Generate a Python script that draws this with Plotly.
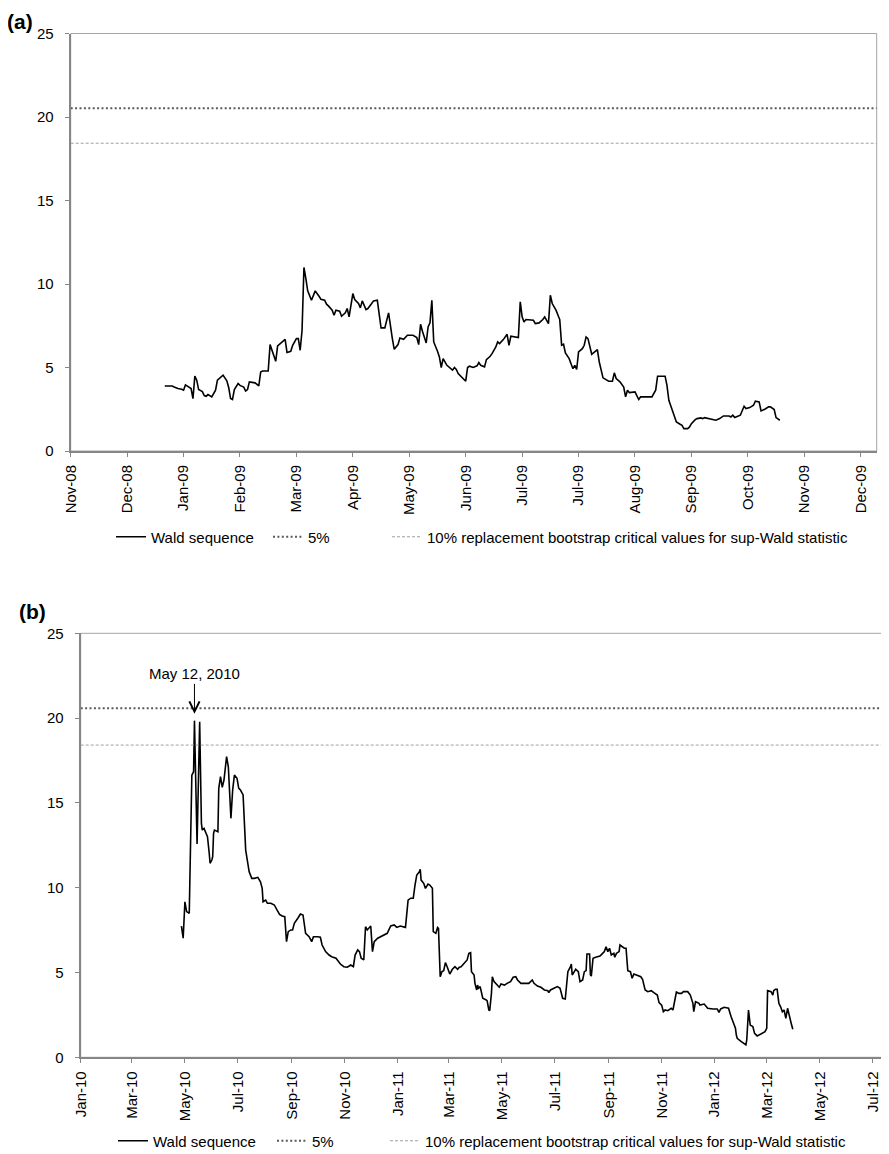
import plotly.graph_objects as go

# The page body has an 8px default margin, so the figure is 8px smaller than the window
# on each axis and every layout position below is given in figure pixels.
FIG_W, FIG_H = 881, 1146
FONT = "Liberation Sans, Arial, sans-serif"

# ---------------- Panel (a) data ----------------
dates_a = [
    "2008-12-23", "2008-12-27", "2008-12-28", "2008-12-30", "2009-01-01", "2009-01-02", "2009-01-03",
    "2009-01-05", "2009-01-06", "2009-01-07", "2009-01-08", "2009-01-09", "2009-01-10", "2009-01-12",
    "2009-01-13", "2009-01-14", "2009-01-15", "2009-01-17", "2009-01-19", "2009-01-20", "2009-01-23",
    "2009-01-25", "2009-01-26", "2009-01-27", "2009-01-28", "2009-01-29", "2009-01-31", "2009-02-01",
    "2009-02-03", "2009-02-04", "2009-02-05", "2009-02-06", "2009-02-09", "2009-02-11", "2009-02-12",
    "2009-02-13", "2009-02-16", "2009-02-17", "2009-02-19", "2009-02-20", "2009-02-21", "2009-02-22",
    "2009-02-23", "2009-02-25", "2009-02-26", "2009-02-28", "2009-03-01", "2009-03-03", "2009-03-04",
    "2009-03-05", "2009-03-06", "2009-03-07", "2009-03-08", "2009-03-09", "2009-03-11", "2009-03-12",
    "2009-03-13", "2009-03-15", "2009-03-16", "2009-03-18", "2009-03-19", "2009-03-20", "2009-03-22",
    "2009-03-23", "2009-03-24", "2009-03-26", "2009-03-27", "2009-03-29", "2009-03-30", "2009-03-31",
    "2009-04-02", "2009-04-03", "2009-04-05", "2009-04-06", "2009-04-07", "2009-04-09", "2009-04-10",
    "2009-04-12", "2009-04-13", "2009-04-15", "2009-04-17", "2009-04-19", "2009-04-21", "2009-04-23",
    "2009-04-24", "2009-04-26", "2009-04-27", "2009-04-29", "2009-05-01", "2009-05-04", "2009-05-06",
    "2009-05-07", "2009-05-08", "2009-05-09", "2009-05-11", "2009-05-12", "2009-05-13", "2009-05-14",
    "2009-05-15", "2009-05-17", "2009-05-18", "2009-05-19", "2009-05-20", "2009-05-22", "2009-05-25",
    "2009-05-26", "2009-05-27", "2009-05-28", "2009-05-30", "2009-06-01", "2009-06-02", "2009-06-03",
    "2009-06-05", "2009-06-07", "2009-06-08", "2009-06-09", "2009-06-11", "2009-06-12", "2009-06-14",
    "2009-06-15", "2009-06-17", "2009-06-18", "2009-06-19", "2009-06-21", "2009-06-23", "2009-06-24",
    "2009-06-25", "2009-06-27", "2009-06-29", "2009-06-30", "2009-07-01", "2009-07-02", "2009-07-03",
    "2009-07-07", "2009-07-08", "2009-07-10", "2009-07-12", "2009-07-13", "2009-07-15", "2009-07-16",
    "2009-07-17", "2009-07-19", "2009-07-21", "2009-07-22", "2009-07-23", "2009-07-24", "2009-07-26",
    "2009-07-27", "2009-07-28", "2009-07-29", "2009-07-30", "2009-07-31", "2009-08-02", "2009-08-03",
    "2009-08-04", "2009-08-05", "2009-08-07", "2009-08-10", "2009-08-11", "2009-08-13", "2009-08-15",
    "2009-08-16", "2009-08-18", "2009-08-19", "2009-08-20", "2009-08-22", "2009-08-24", "2009-08-25",
    "2009-08-26", "2009-08-27", "2009-08-30", "2009-09-01", "2009-09-02", "2009-09-08", "2009-09-10",
    "2009-09-11", "2009-09-15", "2009-09-16", "2009-09-17", "2009-09-19", "2009-09-21", "2009-09-23",
    "2009-09-24", "2009-09-25", "2009-09-27", "2009-09-28", "2009-09-29", "2009-10-01", "2009-10-02",
    "2009-10-04", "2009-10-05", "2009-10-06", "2009-10-09", "2009-10-12", "2009-10-14", "2009-10-16",
    "2009-10-19", "2009-10-20", "2009-10-21", "2009-10-22", "2009-10-25", "2009-10-27", "2009-10-28",
    "2009-10-30", "2009-11-01", "2009-11-02", "2009-11-04", "2009-11-05", "2009-11-07", "2009-11-09",
    "2009-11-10", "2009-11-12", "2009-11-13", "2009-11-15",
]
wald_a = [
    3.89, 3.89, 3.83, 3.74, 3.70, 3.64, 3.96,
    3.83, 3.74, 3.14, 4.48, 4.24, 3.68, 3.56,
    3.32, 3.28, 3.38, 3.24, 3.64, 4.24, 4.54,
    4.20, 3.80, 3.14, 3.08, 3.68, 4.04, 3.93,
    3.83, 3.59, 3.68, 4.14, 4.08, 3.90, 4.73,
    4.79, 4.79, 6.37, 5.63, 5.37, 6.29, 6.39,
    6.43, 6.69, 5.90, 5.97, 6.33, 6.73, 6.73,
    6.03, 7.23, 10.99, 10.33, 9.59, 9.03, 9.29,
    9.59, 9.27, 9.09, 9.03, 8.79, 8.69, 8.43,
    8.13, 8.43, 8.37, 8.07, 8.27, 8.53, 8.03,
    9.43, 9.07, 8.83, 8.57, 8.99, 8.47, 8.53,
    8.83, 8.99, 9.03, 7.37, 7.37, 8.27, 6.73,
    6.09, 6.37, 6.77, 6.69, 6.93, 6.93, 6.79,
    6.37, 7.59, 7.17, 6.47, 7.43, 7.67, 9.03,
    6.53, 5.97, 5.63, 5.00, 5.53, 5.13, 4.84,
    5.00, 4.88, 4.64, 4.38, 4.18, 5.00, 5.08,
    5.00, 5.10, 5.30, 5.13, 5.04, 5.47, 5.67,
    5.83, 6.23, 6.53, 6.43, 6.67, 6.99, 6.33,
    6.87, 6.83, 6.79, 8.93, 8.03, 7.73, 7.87,
    7.83, 7.63, 7.67, 7.87, 8.03, 7.63, 9.33,
    8.83, 8.43, 7.87, 6.33, 6.39, 5.87, 5.53,
    5.23, 4.93, 5.13, 4.88, 5.93, 6.13, 6.33,
    6.83, 6.73, 5.79, 6.07, 5.33, 4.38, 4.24,
    4.18, 4.18, 4.68, 4.34, 4.14, 3.83, 3.24,
    3.64, 3.50, 3.54, 3.08, 3.24, 3.24, 3.64,
    4.48, 4.48, 3.93, 3.04, 2.44, 1.74, 1.60,
    1.54, 1.34, 1.34, 1.44, 1.64, 1.88, 1.94,
    1.98, 1.94, 2.00, 1.94, 1.84, 1.94, 2.10,
    2.10, 2.04, 2.14, 2.00, 2.14, 2.68, 2.54,
    2.60, 2.74, 2.98, 2.94, 2.40, 2.50, 2.64,
    2.64, 2.48, 2.00, 1.84,
]
crit5_a = 20.52
crit10_a = 18.43
tickvals_a = ["2008-11-03", "2008-12-03", "2009-01-02", "2009-02-01", "2009-03-03",
              "2009-04-02", "2009-05-02", "2009-06-01", "2009-07-01", "2009-07-31",
              "2009-08-30", "2009-09-29", "2009-10-29", "2009-11-28", "2009-12-28"]
ticktext_a = ["Nov-08", "Dec-08", "Jan-09", "Feb-09", "Mar-09", "Apr-09", "May-09", "Jun-09",
              "Jul-09", "Jul-09", "Aug-09", "Sep-09", "Oct-09", "Nov-09", "Dec-09"]
xrange_a = ["2008-11-03", "2010-01-05 12:00"]

# ---------------- Panel (b) data ----------------
dates_b = [
    "2010-04-27", "2010-04-29", "2010-05-01", "2010-05-03", "2010-05-06", "2010-05-09", "2010-05-11",
    "2010-05-12", "2010-05-15", "2010-05-18", "2010-05-20", "2010-05-21", "2010-05-23", "2010-05-25",
    "2010-05-27", "2010-05-29", "2010-05-30", "2010-06-01", "2010-06-02", "2010-06-03", "2010-06-04",
    "2010-06-08", "2010-06-09", "2010-06-11", "2010-06-13", "2010-06-15", "2010-06-18", "2010-06-20",
    "2010-06-23", "2010-06-25", "2010-06-27", "2010-06-30", "2010-07-02", "2010-07-04", "2010-07-07",
    "2010-07-10", "2010-07-14", "2010-07-17", "2010-07-20", "2010-07-24", "2010-07-27", "2010-07-29",
    "2010-07-30", "2010-08-02", "2010-08-04", "2010-08-08", "2010-08-12", "2010-08-15", "2010-08-18",
    "2010-08-21", "2010-08-24", "2010-08-26", "2010-08-28", "2010-08-31", "2010-09-02", "2010-09-04",
    "2010-09-07", "2010-09-08", "2010-09-11", "2010-09-14", "2010-09-17", "2010-09-21", "2010-09-24",
    "2010-09-26", "2010-10-01", "2010-10-04", "2010-10-06", "2010-10-10", "2010-10-14", "2010-10-17",
    "2010-10-22", "2010-10-27", "2010-10-31", "2010-11-04", "2010-11-08", "2010-11-11", "2010-11-13",
    "2010-11-16", "2010-11-18", "2010-11-20", "2010-11-23", "2010-11-25", "2010-11-27", "2010-12-01",
    "2010-12-03", "2010-12-05", "2010-12-09", "2010-12-13", "2010-12-16", "2010-12-20", "2010-12-24",
    "2010-12-28", "2010-12-31", "2011-01-04", "2011-01-10", "2011-01-13", "2011-01-16", "2011-01-19",
    "2011-01-21", "2011-01-23", "2011-01-26", "2011-01-27", "2011-01-28", "2011-01-31", "2011-02-02",
    "2011-02-05", "2011-02-07", "2011-02-10", "2011-02-11", "2011-02-14", "2011-02-16", "2011-02-17",
    "2011-02-19", "2011-02-21", "2011-02-23", "2011-02-25", "2011-02-27", "2011-03-02", "2011-03-05",
    "2011-03-08", "2011-03-11", "2011-03-13", "2011-03-15", "2011-03-18", "2011-03-20", "2011-03-22",
    "2011-03-24", "2011-03-26", "2011-03-27", "2011-03-30", "2011-03-31", "2011-04-02", "2011-04-03",
    "2011-04-04", "2011-04-06", "2011-04-08", "2011-04-09", "2011-04-13", "2011-04-14", "2011-04-16",
    "2011-04-17", "2011-04-19", "2011-04-20", "2011-04-22", "2011-04-25", "2011-04-28", "2011-04-30",
    "2011-05-04", "2011-05-07", "2011-05-11", "2011-05-14", "2011-05-17", "2011-05-19", "2011-05-23",
    "2011-05-27", "2011-06-01", "2011-06-05", "2011-06-07", "2011-06-11", "2011-06-15", "2011-06-19",
    "2011-06-23", "2011-06-24", "2011-06-26", "2011-06-30", "2011-07-04", "2011-07-07", "2011-07-10",
    "2011-07-13", "2011-07-14", "2011-07-16", "2011-07-19", "2011-07-20", "2011-07-21", "2011-07-23",
    "2011-07-25", "2011-07-28", "2011-07-30", "2011-08-02", "2011-08-04", "2011-08-06", "2011-08-07",
    "2011-08-10", "2011-08-11", "2011-08-12", "2011-08-14", "2011-08-17", "2011-08-22", "2011-08-25",
    "2011-08-27", "2011-08-29", "2011-08-31", "2011-09-02", "2011-09-04", "2011-09-07", "2011-09-08",
    "2011-09-10", "2011-09-13", "2011-09-14", "2011-09-17", "2011-09-19", "2011-09-21", "2011-09-23",
    "2011-09-26", "2011-09-28", "2011-09-30", "2011-10-04", "2011-10-08", "2011-10-10", "2011-10-13",
    "2011-10-16", "2011-10-20", "2011-10-23", "2011-10-27", "2011-10-29", "2011-11-01", "2011-11-03",
    "2011-11-05", "2011-11-08", "2011-11-12", "2011-11-14", "2011-11-16", "2011-11-18", "2011-11-21",
    "2011-11-24", "2011-11-26", "2011-12-01", "2011-12-04", "2011-12-07", "2011-12-08", "2011-12-10",
    "2011-12-14", "2011-12-15", "2011-12-20", "2011-12-24", "2011-12-30", "2012-01-04", "2012-01-06",
    "2012-01-08", "2012-01-12", "2012-01-17", "2012-01-20", "2012-01-23", "2012-01-25", "2012-01-26",
    "2012-01-27", "2012-01-31", "2012-02-04", "2012-02-06", "2012-02-07", "2012-02-08", "2012-02-09",
    "2012-02-11", "2012-02-14", "2012-02-16", "2012-02-19", "2012-02-21", "2012-02-25", "2012-02-28",
    "2012-03-01", "2012-03-02", "2012-03-06", "2012-03-08", "2012-03-09", "2012-03-11", "2012-03-13",
    "2012-03-15", "2012-03-17", "2012-03-19", "2012-03-21", "2012-03-23", "2012-03-25", "2012-03-27",
    "2012-03-29", "2012-03-31",
]
wald_b = [
    7.74, 7.02, 9.17, 8.59, 8.49, 16.64, 16.84,
    19.85, 12.58, 19.79, 13.80, 13.40, 13.50, 13.21,
    13.01, 12.03, 11.44, 11.63, 11.83, 13.21, 13.40,
    13.30, 15.86, 16.55, 15.92, 16.35, 17.73, 17.13,
    14.09, 15.76, 16.64, 16.45, 15.86, 15.76, 15.47,
    12.22, 10.94, 10.55, 10.55, 10.61, 10.35, 9.96,
    9.17, 9.27, 9.08, 9.08, 8.98, 8.69, 8.43,
    8.33, 8.29, 6.82, 7.41, 7.51, 7.51, 7.90,
    8.10, 8.20, 8.45, 8.39, 7.31, 7.11, 6.82,
    7.11, 7.11, 7.08, 6.62, 6.23, 6.03, 5.93,
    5.84, 5.50, 5.34, 5.31, 5.44, 5.34, 6.03,
    6.33, 6.23, 5.84, 5.74, 7.70, 7.51, 7.74,
    6.23, 6.82, 7.02, 7.11, 7.21, 7.31, 7.74,
    7.80, 7.66, 7.74, 7.66, 9.27, 9.38, 9.38,
    10.16, 10.75, 10.94, 11.08, 10.45, 10.26, 9.96,
    10.22, 10.16, 9.96, 7.41, 7.31, 7.66, 7.61,
    4.75, 5.05, 5.11, 5.58, 5.34, 4.91, 5.19,
    5.34, 5.19, 5.31, 5.34, 5.50, 5.58, 5.74,
    6.13, 6.17, 5.05, 4.85, 4.36, 3.97, 4.26,
    4.07, 4.17, 3.77, 3.48, 3.38, 3.34, 2.79,
    2.75, 3.77, 4.75, 4.46, 4.26, 4.13, 4.32,
    4.26, 4.36, 4.46, 4.72, 4.75, 4.56, 4.36,
    4.36, 4.36, 4.56, 4.36, 4.20, 4.13, 3.97,
    3.93, 3.81, 3.97, 4.07, 4.17, 4.07, 3.48,
    3.44, 3.87, 5.05, 5.34, 5.50, 4.85, 5.05,
    5.19, 5.05, 4.46, 4.56, 5.05, 5.11, 6.09,
    6.09, 4.85, 4.79, 5.84, 5.90, 5.97, 6.13,
    6.23, 6.52, 6.23, 6.43, 6.03, 6.13, 5.90,
    6.13, 6.23, 6.62, 6.52, 6.43, 6.43, 5.11,
    5.05, 4.66, 4.91, 4.85, 4.75, 4.60, 3.97,
    3.87, 3.93, 3.81, 3.67, 3.22, 3.08, 2.69,
    2.79, 2.75, 2.89, 2.79, 3.28, 3.85, 3.77,
    3.77, 3.87, 3.87, 3.67, 3.18, 2.69, 3.28,
    3.18, 3.08, 3.14, 2.89, 2.85, 2.85, 2.65,
    2.85, 2.95, 2.89, 2.39, 1.90, 1.71, 1.31,
    1.12, 0.96, 0.78, 0.73, 1.02, 1.90, 2.79,
    1.90, 1.81, 1.41, 1.26, 1.31, 1.41, 1.51,
    1.71, 3.93, 3.87, 3.67, 3.93, 4.01, 4.01,
    3.18, 2.98, 2.69, 2.79, 2.30, 2.89, 2.39,
    2.04, 1.65,
]
crit5_b = 20.58
crit10_b = 18.41
tickvals_b = ["2010-01-01", "2010-03-01", "2010-05-01", "2010-07-01", "2010-09-01", "2010-11-01",
              "2011-01-01", "2011-03-01", "2011-05-01", "2011-07-01", "2011-09-01", "2011-11-01",
              "2012-01-01", "2012-03-01", "2012-05-01", "2012-07-01"]
ticktext_b = ["Jan-10", "Mar-10", "May-10", "Jul-10", "Sep-10", "Nov-10", "Jan-11", "Mar-11",
              "May-11", "Jul-11", "Sep-11", "Nov-11", "Jan-12", "Mar-12", "May-12", "Jul-12"]
xrange_b = ["2010-01-01", "2012-07-19"]
event_date = "2010-05-12"
event_label = "May 12, 2010"
event_arrow_y = 20.25

legend_names = ["Wald sequence", "5%",
                "10% replacement bootstrap critical values for sup-Wald statistic"]

# ---------------- Layout geometry (figure pixels) ----------------
def px_x(p):
    return p / FIG_W

def px_y(p):
    return (FIG_H - p) / FIG_H

# ---------------- Figure ----------------
fig = go.Figure()

def add_panel(dates, vals, c5, c10, xr, xa, ya, legs):
    fig.add_trace(go.Scatter(x=dates, y=vals, mode="lines", name=legend_names[0],
                             line=dict(color="#000000", width=1.6), xaxis=xa, yaxis=ya,
                             legend=legs[0], hoverinfo="skip"))
    fig.add_trace(go.Scatter(x=xr, y=[c5, c5], mode="lines", name=legend_names[1],
                             line=dict(color="#5a5a5a", width=2, dash="2px,2.4px"),
                             xaxis=xa, yaxis=ya, legend=legs[1], hoverinfo="skip"))
    fig.add_trace(go.Scatter(x=xr, y=[c10, c10], mode="lines", name=legend_names[2],
                             line=dict(color="#a0a0a0", width=1, dash="3px,2px"),
                             xaxis=xa, yaxis=ya, legend=legs[2], hoverinfo="skip"))

add_panel(dates_a, wald_a, crit5_a, crit10_a, xrange_a, "x", "y",
          ["legend", "legend2", "legend3"])
add_panel(dates_b, wald_b, crit5_b, crit10_b, xrange_b, "x2", "y2",
          ["legend4", "legend5", "legend6"])

AX_COL = "#868686"
tickfont = dict(family=FONT, size=15, color="#000000")

def xaxis_cfg(domain, anchor, xr, tv, tt):
    return dict(domain=domain, anchor=anchor, type="date", range=xr, tickmode="array",
                tickvals=tv, ticktext=tt, tickangle=-90, ticks="outside", ticklen=4,
                tickwidth=1, tickcolor=AX_COL, showline=True, linecolor=AX_COL, linewidth=2,
                showgrid=False, zeroline=False, tickfont=tickfont, fixedrange=True,
                automargin=False, ticklabelstandoff=2)

def yaxis_cfg(domain, anchor):
    return dict(domain=domain, anchor=anchor, range=[0, 25], tickmode="linear", tick0=0,
                dtick=5, ticks="outside", ticklen=4, tickwidth=1, tickcolor=AX_COL,
                showline=True, linecolor=AX_COL, linewidth=2, showgrid=False, zeroline=False,
                tickfont=tickfont, ticklabelstandoff=8, fixedrange=True, automargin=False)

def legend_cfg(xpix, ypix):
    return dict(orientation="h", x=px_x(xpix), xanchor="left", y=px_y(ypix),
                yanchor="middle", font=dict(family=FONT, size=15, color="#000000"),
                bgcolor="rgba(0,0,0,0)")

LEG_Y_A = 529
LEG_Y_B = 1133

fig.update_layout(
    width=FIG_W, height=FIG_H,
    margin=dict(l=0, r=0, t=0, b=0, autoexpand=False),
    paper_bgcolor="white", plot_bgcolor="white",
    font=dict(family=FONT, size=15, color="#000000"),
    xaxis=xaxis_cfg([px_x(62.7), px_x(868.7)], "y", xrange_a, tickvals_a, ticktext_a),
    yaxis=yaxis_cfg([px_y(443), px_y(25.5)], "x"),
    xaxis2=xaxis_cfg([px_x(72.7), px_x(880.3)], "y2", xrange_b, tickvals_b, ticktext_b),
    yaxis2=yaxis_cfg([px_y(1049.3), px_y(625.3)], "x2"),
    legend=legend_cfg(103, LEG_Y_A),
    legend2=legend_cfg(260, LEG_Y_A),
    legend3=legend_cfg(379, LEG_Y_A),
    legend4=legend_cfg(105, LEG_Y_B),
    legend5=legend_cfg(264, LEG_Y_B),
    legend6=legend_cfg(377, LEG_Y_B),
    showlegend=True,
)

# plot-area borders (light grey frame)
for xr_, yr_ in (("x domain", "y domain"), ("x2 domain", "y2 domain")):
    fig.add_shape(type="rect", xref=xr_, yref=yr_, x0=0, x1=1, y0=0, y1=1,
                  line=dict(color="#a6a6a6", width=1), layer="below")

# panel labels
fig.add_annotation(text="<b>(a)</b>", xref="paper", yref="paper", x=px_x(12),
                   y=px_y(14), xanchor="center", yanchor="middle", showarrow=False,
                   font=dict(family=FONT, size=21, color="#000000"))
fig.add_annotation(text="<b>(b)</b>", xref="paper", yref="paper", x=px_x(24),
                   y=px_y(603), xanchor="center", yanchor="middle", showarrow=False,
                   font=dict(family=FONT, size=21, color="#000000"))

# event arrow
fig.add_annotation(text=event_label, x=event_date, y=event_arrow_y, xref="x2", yref="y2",
                   showarrow=True, ax=0, ay=-40, arrowhead=5, arrowsize=2, arrowwidth=1,
                   arrowcolor="#000000", font=dict(family=FONT, size=15, color="#000000"))

fig.write_html("out.html")
